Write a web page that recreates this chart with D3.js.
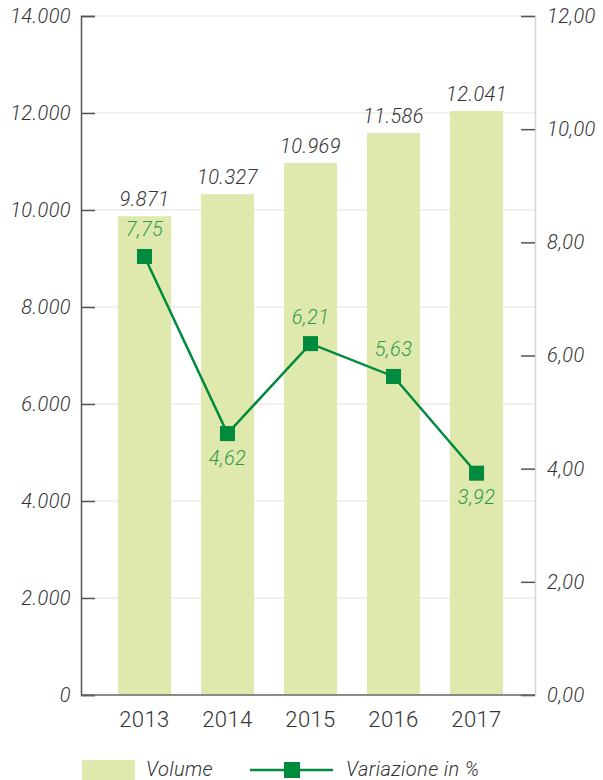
<!DOCTYPE html>
<html>
<head>
<meta charset="utf-8">
<script src="https://cdn.jsdelivr.net/npm/d3@7"></script>
<style>
body { margin: 0; background: #fff; }
svg { display: block; font-family: Roboto, "Liberation Sans", Arial, sans-serif; font-weight: 300; letter-spacing: 0.4px; }
.tick text { font-style: italic; }
</style>
</head>
<body>
<script>
var width = 603;
var height = 780;
var margin = { top: 16, right: 70, bottom: 85, left: 81 };

var years = ["2013", "2014", "2015", "2016", "2017"];
var volume = [9871, 10327, 10969, 11586, 12041];
var variazione = [7.75, 4.62, 6.21, 5.63, 3.92];
var leftTicks = [0, 2000, 4000, 6000, 8000, 10000, 12000, 14000];
var rightTicks = [0, 2, 4, 6, 8, 10, 12];

var it = d3.formatLocale({ decimal: ",", thousands: ".", grouping: [3], currency: ["€", ""] });
var fmtVol = it.format(",d");
var fmtPct = it.format(".2f");

var barCol = "#dfe9ae";
var lineCol = "#008a3e";
var labCol = "#2f9a4c";
var textCol = "#333";

var svg = d3.select("body").append("svg")
    .attr("width", width)
    .attr("height", height);

var x0 = margin.left, x1 = width - margin.right + 2;
var yTop = margin.top, yBot = height - margin.bottom;

var x = d3.scaleBand()
    .domain(years)
    .range([103, 518])
    .paddingInner(0.361)
    .paddingOuter(0.18);

var y = d3.scaleLinear().domain([0, 14000]).range([yBot, yTop]);
var y2 = d3.scaleLinear().domain([0, 12]).range([yBot, yTop]);

// gridlines
svg.append("g").selectAll("line")
    .data(leftTicks.filter(function (d) { return d > 0; }))
    .enter().append("line")
    .attr("x1", x0).attr("x2", x1)
    .attr("y1", function (d) { return y(d); })
    .attr("y2", function (d) { return y(d); })
    .style("stroke", "#e2e2dc")
    .style("stroke-width", 1.2);

// bars
svg.append("g").selectAll("rect")
    .data(volume)
    .enter().append("rect")
    .attr("x", function (d, i) { return x(years[i]); })
    .attr("width", x.bandwidth())
    .attr("y", function (d) { return y(d); })
    .attr("height", function (d) { return yBot - y(d); })
    .style("fill", barCol);

svg.append("g").selectAll("text")
    .data(volume)
    .enter().append("text")
    .attr("x", function (d, i) { return x(years[i]) + x.bandwidth() / 2; })
    .attr("y", function (d) { return y(d) - 10; })
    .attr("text-anchor", "middle")
    .style("font-size", "20px")
    .style("font-style", "italic")
    .style("fill", textCol)
    .text(function (d) { return fmtVol(d); });

// left axis
var yAxis = d3.axisLeft(y).tickValues(leftTicks).tickFormat(fmtVol).tickSize(-14).tickPadding(10);
var gl = svg.append("g")
    .attr("transform", "translate(" + x0 + ",0)")
    .call(yAxis)
    .attr("font-family", null);
gl.select(".domain").style("stroke", "#555").style("stroke-width", 1.5);
gl.selectAll(".tick line").style("stroke", "#555").style("stroke-width", 1.5);
gl.selectAll(".tick text").style("font-size", "20px").style("fill", textCol);

// right axis
var yAxis2 = d3.axisRight(y2).tickValues(rightTicks).tickFormat(fmtPct).tickSize(-14).tickPadding(12);
var gr = svg.append("g")
    .attr("transform", "translate(" + x1 + ",0)")
    .call(yAxis2)
    .attr("font-family", null);
gr.select(".domain").style("stroke", "#d6d6ce").style("stroke-width", 1.5);
gr.selectAll(".tick line").style("stroke", "#555").style("stroke-width", 1.5);
gr.selectAll(".tick text").style("font-size", "20px").style("fill", textCol);

// bottom axis
svg.append("line")
    .attr("x1", x0).attr("x2", x1)
    .attr("y1", yBot).attr("y2", yBot)
    .style("stroke", "#666")
    .style("stroke-width", 1.5);

svg.append("g").selectAll("text")
    .data(years)
    .enter().append("text")
    .attr("x", function (d) { return x(d) + x.bandwidth() / 2; })
    .attr("y", yBot + 32)
    .attr("text-anchor", "middle")
    .style("font-size", "22px")
    .style("fill", "#333")
    .text(function (d) { return d; });

// line
var cx = function (i) { return x(years[i]) + x.bandwidth() / 2; };
var line = d3.line()
    .x(function (d, i) { return cx(i); })
    .y(function (d) { return y2(d); });

svg.append("path")
    .datum(variazione)
    .attr("d", line)
    .style("fill", "none")
    .style("stroke", lineCol)
    .style("stroke-width", 2.5);

svg.append("g").selectAll("rect")
    .data(variazione)
    .enter().append("rect")
    .attr("x", function (d, i) { return cx(i) - 7.5; })
    .attr("y", function (d) { return y2(d) - 7.5; })
    .attr("width", 15)
    .attr("height", 15)
    .style("fill", lineCol);

// label below when the point is lower than its neighbours
function below(i) {
    var v = variazione[i];
    var prev = i > 0 ? variazione[i - 1] : Infinity;
    var next = i < variazione.length - 1 ? variazione[i + 1] : Infinity;
    return v < prev && v < next;
}

svg.append("g").selectAll("text")
    .data(variazione)
    .enter().append("text")
    .attr("x", function (d, i) { return cx(i); })
    .attr("y", function (d, i) { return y2(d) + (below(i) ? 31 : -20); })
    .attr("text-anchor", "middle")
    .style("font-size", "20px")
    .style("font-style", "italic")
    .style("fill", labCol)
    .text(function (d) { return fmtPct(d); });

// legend
var lg = svg.append("g");
lg.append("rect")
    .attr("x", 82).attr("y", 760)
    .attr("width", 53).attr("height", 22)
    .style("fill", barCol);
lg.append("text")
    .attr("x", 146).attr("y", 776)
    .style("font-size", "20px")
    .style("font-style", "italic")
    .style("fill", textCol)
    .text("Volume");
lg.append("line")
    .attr("x1", 250).attr("x2", 333)
    .attr("y1", 770).attr("y2", 770)
    .style("stroke", lineCol)
    .style("stroke-width", 2.5);
lg.append("rect")
    .attr("x", 284).attr("y", 762)
    .attr("width", 16).attr("height", 16)
    .style("fill", lineCol);
lg.append("text")
    .attr("x", 346).attr("y", 776)
    .style("font-size", "20px")
    .style("font-style", "italic")
    .style("fill", textCol)
    .text("Variazione in %");
</script>
</body>
</html>
